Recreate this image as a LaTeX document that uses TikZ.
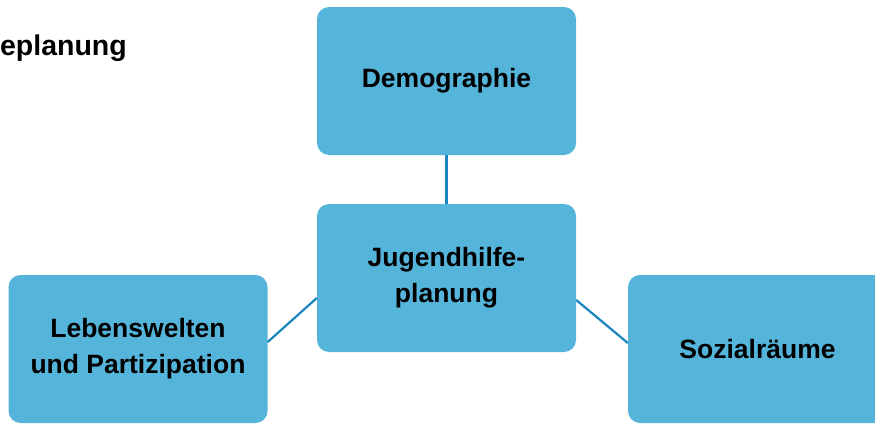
\documentclass[tikz,border=0pt]{standalone}
\usepackage{fontspec}
\setmainfont{Liberation Sans}
\definecolor{boxfill}{HTML}{55B4DA}
\definecolor{linkcol}{HTML}{1A86C0}
\begin{document}
\begin{tikzpicture}[x=1pt,y=-1pt,
  box/.style={fill=boxfill, draw=none, rounded corners=12pt, minimum width=259pt, minimum height=148pt, inner sep=0pt, align=center, font=\fontsize{26.5}{36}\selectfont\bfseries},
  link/.style={draw=linkcol, line width=2.2pt}]
\useasboundingbox (0,0) rectangle (875,423);
\clip (0,0) rectangle (875,423);
\node[anchor=base east, font=\fontsize{28.5}{34}\selectfont\bfseries, inner sep=0pt] (title) at (127,55) {eplanung};
\node[box] (demo) at (446.5,81) {Demographie};
\node[box] (jhp) at (446.5,278) {Jugendhilfe-\\planung};
\node[box] (leben) at (138,349) {Lebenswelten\\und Partizipation};
\node[box] (sozial) at (757.5,349) {Sozialräume};
\draw[link] (demo.south) -- (jhp.north);
\draw[link] ([yshift=-20pt]jhp.west) -- ([yshift=7pt]leben.east);
\draw[link] ([yshift=-22pt]jhp.east) -- ([yshift=6pt]sozial.west);
\end{tikzpicture}
\end{document}
